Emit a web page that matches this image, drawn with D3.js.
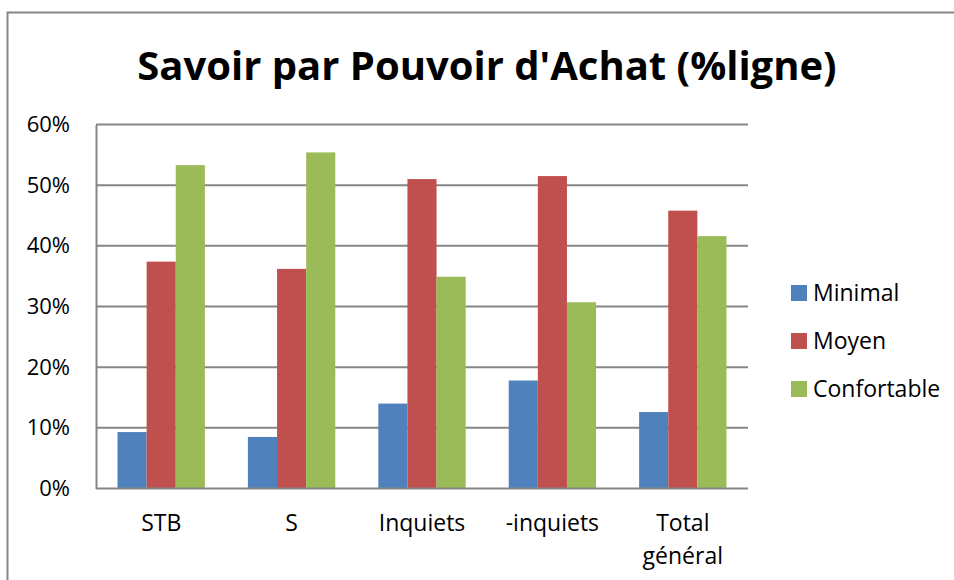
<!DOCTYPE html>
<html>
<head>
<meta charset="utf-8">
<script src="https://cdn.jsdelivr.net/npm/d3@7/dist/d3.min.js"></script>
<style>
  html, body { margin: 0; padding: 0; background: #fff; }
  svg { display: block; font-family: "Open Sans", "Noto Sans", sans-serif; }
</style>
</head>
<body>
<svg id="chart" width="954" height="580"></svg>
<script>
// Categories, series and tick labels
const categories = ["STB", "S", "Inquiets", "-inquiets", "Total général"];
const seriesNames = ["Minimal", "Moyen", "Confortable"];
const minimal     = [9.3, 8.5, 14.0, 17.8, 12.6];
const moyen       = [37.4, 36.2, 51.0, 51.5, 45.8];
const confortable = [53.3, 55.4, 34.9, 30.7, 41.6];
const yTicks = [0, 10, 20, 30, 40, 50, 60];
const colors = ["#4F81BD", "#C0504D", "#9BBB59"];

const seriesValues = [minimal, moyen, confortable];
const rows = categories.map((c, i) => ({
  category: c,
  values: seriesNames.map((s, j) => ({ series: s, value: seriesValues[j][i], idx: j }))
}));

const svg = d3.select("#chart");
const plot = { left: 96, right: 748, top: 124.5, bottom: 488.5 };

// Outer chart frame
svg.append("path")
  .attr("d", "M7.5,580 L7.5,12.5 L954,12.5")
  .attr("fill", "none").attr("stroke", "#868686").attr("stroke-width", 2);

// Title
svg.append("text")
  .attr("x", 487).attr("y", 80)
  .attr("text-anchor", "middle")
  .attr("font-size", 40).attr("font-weight", 700)
  .attr("fill", "#000")
  .text("Savoir par Pouvoir d'Achat (%ligne)");

const x0 = d3.scaleBand().domain(categories).range([plot.left, plot.right])
  .paddingInner(0.33).paddingOuter(0.165);
const x1 = d3.scaleBand().domain(seriesNames).range([0, x0.bandwidth()]);
const y = d3.scaleLinear().domain([0, 60]).range([plot.bottom, plot.top]);

// Horizontal gridlines
svg.append("g").selectAll("line").data(yTicks.filter(t => t > 0)).join("line")
  .attr("x1", plot.left).attr("x2", plot.right)
  .attr("y1", d => y(d)).attr("y2", d => y(d))
  .attr("stroke", "#868686").attr("stroke-width", 2);

// Bars
const groups = svg.append("g").selectAll("g").data(rows).join("g")
  .attr("transform", d => `translate(${x0(d.category)},0)`);
groups.selectAll("rect").data(d => d.values).join("rect")
  .attr("x", d => x1(d.series))
  .attr("width", x1.bandwidth())
  .attr("y", d => y(d.value))
  .attr("height", d => y(0) - y(d.value))
  .attr("fill", d => colors[d.idx]);

// Y axis
const yAxis = svg.append("g")
  .attr("transform", `translate(${plot.left},0)`)
  .call(d3.axisLeft(y).tickValues(yTicks).tickFormat(d => d + "%").tickSize(0).tickPadding(26));
yAxis.select(".domain").attr("stroke", "#868686").attr("stroke-width", 2);
yAxis.selectAll("text").attr("font-size", 22).attr("fill", "#000")
  .attr("font-family", "'Open Sans', sans-serif");

// X axis
const xAxis = svg.append("g")
  .attr("transform", `translate(0,${plot.bottom})`)
  .call(d3.axisBottom(x0).tickSize(0).tickPadding(26));
xAxis.select(".domain").attr("stroke", "#868686").attr("stroke-width", 2)
  .attr("d", `M${plot.left},0H${plot.right}`);
xAxis.selectAll("text").attr("font-size", 23).attr("fill", "#000")
  .attr("font-family", "'Open Sans', sans-serif")
  .each(function(d) {
    const words = d.split(" ");
    if (words.length > 1) {
      const t = d3.select(this).text(null);
      words.forEach((w, i) => {
        t.append("tspan").attr("x", 0).attr("dy", i === 0 ? "0.71em" : "1.43em").text(w);
      });
      t.attr("dy", null);
    }
  });

// Legend
const legend = svg.append("g").selectAll("g").data(seriesNames).join("g")
  .attr("transform", (d, i) => `translate(791,${285 + i * 48})`);
legend.append("rect").attr("width", 16).attr("height", 16).attr("fill", (d, i) => colors[i]);
legend.append("text").attr("x", 22).attr("y", 8).attr("dy", "0.35em")
  .attr("font-size", 23).attr("fill", "#000").text(d => d);
</script>
</body>
</html>
